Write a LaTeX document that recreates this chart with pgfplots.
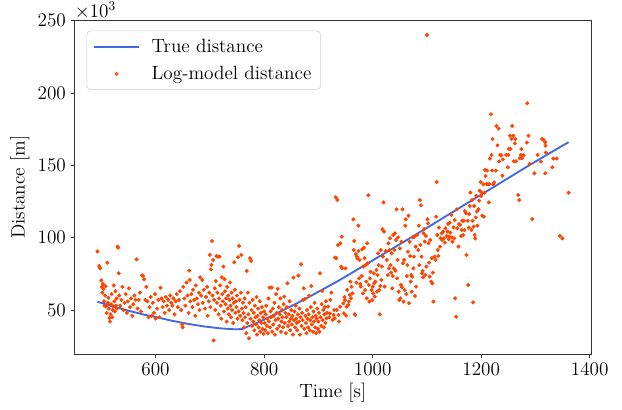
\documentclass[border=0pt]{standalone}
\usepackage{pgfplots}
\pgfplotsset{compat=1.18}
\definecolor{orred}{HTML}{FF4500}
\definecolor{royal}{HTML}{4169E1}
\pgfplotsset{
  lineleg/.style={legend image code/.code={\draw[##1] (0cm,0cm) -- (1.17cm,0cm);}},
  dotleg/.style={legend image code/.code={\draw[mark repeat=2, mark phase=2, ##1] plot coordinates {(0cm,0cm) (0.585cm,0cm) (1.17cm,0cm)};}},
}
\begin{document}
\begin{tikzpicture}
\useasboundingbox (-55.9pt,-42pt) rectangle (410.6pt,265.5pt);
\begin{axis}[
  name=ax,
  scale only axis, width=387.4pt, height=250pt,
  xmin=450.7, xmax=1402.4, ymin=19.6, ymax=250,
  xtick={600,800,1000,1200,1400}, ytick={50,100,150,200,250},
  /pgf/number format/set thousands separator={},
  tick pos=left, tick align=outside, major tick length=3pt,
  axis line style={black!80, line width=0.6pt},
  every tick/.style={black!80, line width=0.6pt},
  tick label style={font=\Large},
  label style={font=\Large},
  xlabel={Time [s]}, ylabel={Distance [m]},
  xlabel style={at={(axis description cs:0.5,-0.116)}, anchor=center},
  ylabel style={at={(axis description cs:-0.106,0.5)}, anchor=center},
  legend style={at={(0,1)}, anchor=north west, xshift=9pt, yshift=-7.5pt,
    draw=black!20, rounded corners=3pt, font=\Large, fill=white, fill opacity=0.8, text opacity=1,
    inner xsep=5pt, inner ysep=4pt, row sep=5pt, column sep=7pt},
  legend cell align=left,
]
\addplot[royal, line width=1.4pt, lineleg] table {
493 55.7
520 52.6
550 49.5
580 46.7
600 45.2
630 42.6
660 40.4
690 38.6
720 37.3
745 36.7
760 36.8
768 38.3
790 41.6
811 45.4
840 50.8
872 56.9
900 62.6
934 69.6
960 75.3
1000 84.3
1044 94.1
1100 106.8
1167 122.2
1229 136.4
1290 150.4
1342 161.9
1361 166.0
};
\addlegendentry{True distance}
\addplot[only marks, mark=*, mark size=1.3pt, color=orred, mark options={draw=orred, fill=orred}, dotleg] table {
493 90.5
496 80.4
498 78.8
500 70.5
501 66
502 62
503 68
504 64.5
505 56
506 53
507 60
508 66.5
509 52.5
510 48
511 82.7
512 55
513 58.5
514 51
515 44.5
516 42
517 47
518 54
519 61
520 45
521 50
522 52.5
523 67
524 56
525 49
526 63
527 53
528 58
529 51
530 93.8
531 93.1
532 75.4
533 60
535 53
537 57
539 66
541 50
543 55
545 61
547 48
549 56
551 65
553 52
555 58
557 46
559 54
561 60
563 57
565 85
567 51
569 57
571 62
573 49
575 74
577 73.5
579 71.2
581 57
583 66
585 56
587 45
589 52
591 59
593 46
595 55
597 48
599 61
600 44
603 51
605 57
607 45
609 65.4
611 58
613 52
615 56
617 48
619 59
621 53
623 57
625 50
627 60
629 55
631 53
633 58
635 47
637 56
639 61
641 52
643 57
645 63
647 50
649 40
650 38
651 66
653 58
655 53
657 69
659 60
661 48
662 77.2
663 70.8
664 56
666 61
668 52
669 64
671 57
673 46
674 67
676 58
678 54
680 62
681 50
682 72.6
684 60
686 70.8
687 55
689 64
691 51
693 59
695 66
696 46
698 56
699 62
700 88.1
701 52
702 78.1
703 81.2
704 97.7
705 60
706 84.6
707 29
708 57
709 65
710 50
711 70
712 87.3
713 55
714 62
715 86.9
716 47
717 58
718 86.9
719 67
720 53
721 44
722 72.6
723 61
724 56
725 80
726 49
727 71.2
728 63
729 54
730 58
731 42
732 66
733 51
734 60
735 47
736 57
737 69
738 53
739 45
740 62
741 50
742 58
743 41
744 55
745 83
746 64
747 48
748 56
749 52
750 60
751 44
752 86.5
753 49
754 94.3
755 57
756 46
757 62
758 88.1
759 51
760 43
761 55
762 48
763 38
764 58
765 45
766 52
767 34
768 77
769 41
770 62
771 47
772 30.5
773 55
774 85.8
775 44
776 83.9
777 50
778 39
779 57
780 42
781 48
782 36
783 53
784 45
785 40
786 59
787 33
788 46
789 51
790 38
791 43
792 56
793 35
794 48
795 41
796 52
797 37
798 45
799 33.5
800 49
801 41
802 36
803 47
804 53
805 39
806 44
807 34
808 58
809 42
810 65.5
811 38
812 49
813 45
814 65.5
815 35
816 51
817 40
818 46
819 55
820 33
821 43
822 61
823 48
824 37
825 64.6
826 44
827 52
828 39
829 47
830 58
831 35
832 42
833 50
834 45
835 38
836 54
837 59.3
838 41
839 48
840 34
841 45
842 52
843 68.5
844 39
845 47
846 42
847 56
848 36
849 44
850 50
851 40
852 46
853 33
854 72.4
855 43
856 49
857 38
858 53
859 44
860 41
861 36
862 47
863 73.8
864 42
865 51
866 33
867 45
868 81.6
869 39
870 48
871 43
872 57
873 65
874 37
875 57.6
876 46
877 41
878 34
879 50
880 44
881 38
882 47
883 60
884 36
885 43
886 52
887 66.6
888 40
889 45
890 35
891 49
892 42
893 55
894 38
895 46
896 34
897 44
898 51
899 37
900 42
901 48
902 35
903 75.4
904 45
905 39
906 54
907 63.2
908 43
909 50
910 38
911 47
912 52
913 41
914 56
915 44.3
916 48
918 52.4
920 45
921 47.7
922 57
924 62
926 43.1
928 46.6
929 50
930 44.3
930.7 86.2
932 127.9
933 85.8
934 50
935 126.1
936 94.9
937 46.6
938 42
940 52.3
940.5 96.1
942 80
943 100.7
944 78.8
946 54.6
947 47.7
948 59
949 56.9
950 78.8
951 46.1
952 52.3
953 63.9
955 53.5
956 55.8
958 60.4
959 69.6
960 58.1
961 66.1
963 61.5
964.5 112.7
965 91.5
966 97.7
967 47
968 46.6
969 88.7
970 68.9
971 86.9
972 85.7
973.7 108.3
974 90.8
975 71.9
976 84.6
977 68
978 66.2
980 73.5
981 92
982 61.5
983 80
984 93.1
985 85.8
986 63.8
987 81.1
988 69.6
989 58.1
990 96.1
991 82.3
992 129.3
993 67.3
994 55.8
995 71.9
996 76.5
998 63.8
999 56.9
1000 66.1
1001 61.5
1002 75.4
1003 68.5
1004 59.2
1005 69.6
1007 77.7
1008 62.7
1009 74.2
1010 89.2
1011 81.1
1012 63.8
1013 47
1014 66.6
1015 91.5
1016 70.8
1017 80
1018 105.8
1019 86.9
1020 124.4
1021 104.2
1022 66.2
1024 90.8
1026 84.6
1028 74.2
1029 96.1
1030 78.8
1031 91.5
1032 99.6
1033 81.1
1034 75.8
1035 89.2
1036 65
1037 73.5
1038 101.9
1039 78.8
1040 91.5
1041 103
1042 77.2
1043 98.4
1044 119.6
1045 71.9
1046 84.6
1047 100.2
1048 62.7
1049 56.9
1050 92.6
1051 58.1
1052 67.3
1053 97.2
1054 65.7
1055 119.6
1056 82.3
1057 55.8
1058 84.6
1059 63.8
1060 108.3
1061 112.7
1062 61.1
1063 73.5
1064 81.1
1065 90.3
1066 115.2
1067 54.7
1068 97.2
1069 87.3
1070 69.6
1071 74.2
1072 62.7
1073 73
1074 100.2
1075 78.8
1076 86.9
1077 100.7
1078 59.7
1079 93.8
1080 66.2
1082 101.9
1084 91.5
1085 108.3
1086 81.1
1087 126
1088 95
1089 122.4
1090 86.9
1091 75.4
1092 77
1093 72.6
1094 103
1095 106
1096 97.3
1097 74.2
1098 101.2
1099 80
1100 240.1
1101 112.7
1102 109.9
1103 96.1
1104 82.7
1105 73.1
1106 98.4
1108 69.6
1109 85.8
1110 68.4
1111 75.8
1112 55.8
1114 86.9
1116 84.6
1117 114.5
1118 138.5
1119 101.9
1120 91.5
1121 87.3
1122 107
1124 93.8
1125 99.6
1127 103
1128 98.4
1130 104.2
1131 99.5
1133 96.6
1134 106.5
1136 101.1
1138 104.2
1139 109.5
1140 98.9
1141 100.7
1142 110.4
1143 103.5
1145 115.7
1146 100.2
1147 97.2
1149 107.1
1150 99.5
1151 112.2
1152 58.1
1154 45.4
1155 119.6
1156 106.5
1158 93.8
1159 109.4
1161 108.8
1163 101.1
1164 105.3
1165 111.7
1167 101.9
1168 111.7
1169 105.3
1170 118.4
1172 116.8
1173 88
1175 111.7
1176 67.3
1177 106.9
1178 116.3
1179 121.9
1180 131.2
1182 105.3
1183 126
1184 111.7
1185 55.3
1186 107.6
1187 121.9
1188 101.9
1189 99.5
1190 114
1191 129
1192 118
1193 108.3
1195 119.6
1196 125.6
1197 132.5
1199 138.5
1200 128.8
1201 131.2
1202 115.2
1204 136.9
1205 114.5
1206 131.1
1207 146.8
1208 142.6
1210 137.1
1211 146.4
1212 136.9
1214 124.4
1215 137.1
1216 154.7
1218 185.3
1219 157.2
1220 146.4
1221 168.2
1222 136.9
1224 138.2
1227 146.4
1228 177.2
1230 163.8
1232 175.4
1233 152.8
1235 157.2
1237 156.9
1239 142.9
1240 154.1
1246 157.2
1249 148.7
1250 157.2
1251 161.3
1253 170.5
1254 161.3
1256 168.2
1257 177.2
1259 170.5
1260 152.8
1262 165.2
1263 168.2
1264 152.8
1268 129.5
1270 126
1271 154.9
1273 157.2
1274 161.3
1275 154.9
1278 156.9
1284 165.7
1285 192.9
1287 170.5
1289 151
1294 112.9
1298 144.5
1304 157.2
1310 152.6
1312 168.2
1315 167.6
1318 165.9
1318.5 163.6
1319 158.8
1318 144.5
1331 148.7
1333 154.7
1339 154.7
1345 101.2
1349.6 99.5
1361 131.1
};
\addlegendentry{Log-model distance}
\end{axis}
\node[anchor=south west, inner sep=0pt, font=\Large, yshift=1pt] at (ax.north west) {$\times10^{3}$};
\end{tikzpicture}
\end{document}
